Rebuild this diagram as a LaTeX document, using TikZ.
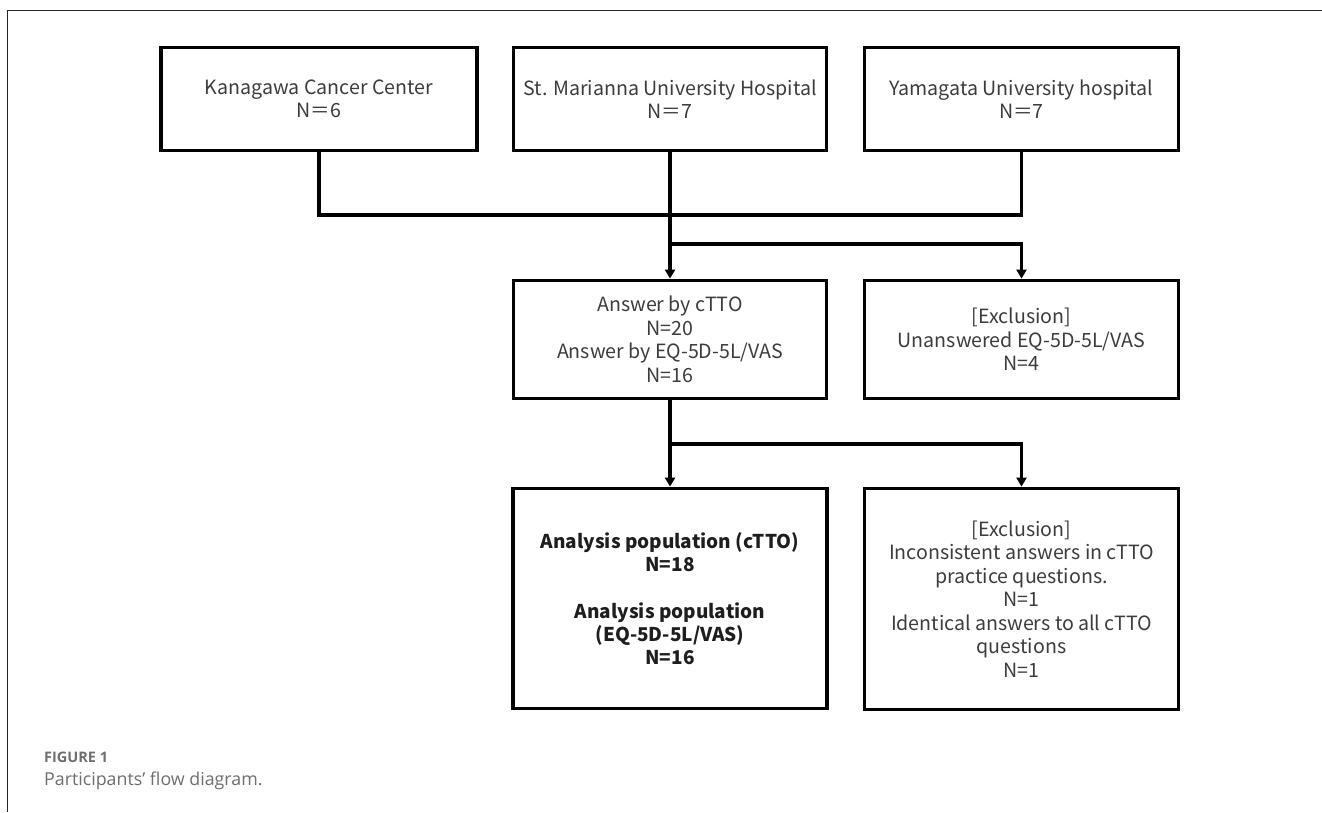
\documentclass[tikz,border=0pt]{standalone}
\usepackage{fontspec}
\setmainfont{Noto Sans CJK JP}
\newfontfamily\captionfont{Open Sans}
\usetikzlibrary{arrows.meta}

\definecolor{boxtext}{HTML}{3C3C3C}
\definecolor{boldtext}{HTML}{1E1E1E}
\definecolor{captiongray}{HTML}{6E6E6E}

\begin{document}
\begin{tikzpicture}[x=1pt, y=-1pt]
    % Define styles
    \tikzset{
        box/.style={
            draw,
            line width=3.8pt,
            minimum width=314pt,
            align=center,
            text=boxtext,
            font=\fontsize{19.6}{23.5}\selectfont
        },
        site/.style={
            box,
            minimum height=103pt
        },
        line/.style={
            draw,
            line width=3.2pt
        },
        arrow/.style={
            line,
            -{Triangle[width=10pt, length=9pt]}
        }
    }

    \useasboundingbox (0,0) rectangle (1322,812);

    % Frame of the figure
    \draw[line width=1.6pt, black!85] (7.5,812) |- (1322,10.5);

    % Participating sites
    \node[site, minimum width=316pt] (kanagawa) at (319,99) {Kanagawa Cancer Center\\N＝6};
    \node[site, minimum width=313pt] (marianna) at (670,99) {St. Marianna University Hospital\\N＝7};
    \node[site] (yamagata) at (1021.5,99) {Yamagata University hospital\\N＝7};

    % Answers and first exclusion
    \node[box, minimum width=313pt, minimum height=118pt] (answer) at (670,339.5) {Answer by cTTO\\N=20\\Answer by EQ-5D-5L/VAS\\N=16};
    \node[box, minimum height=118pt] (excl1) at (1021.5,339.5) {[Exclusion]\\Unanswered EQ-5D-5L/VAS\\N=4};

    % Analysis population and second exclusion
    \node[box, minimum height=220pt, text=boldtext, font=\fontsize{19}{23.3}\selectfont\bfseries] (analysis) at (670,598.5) {Analysis population (cTTO)\\N=18\\[23.3pt]Analysis population\\(EQ-5D-5L/VAS)\\N=16};
    \node[box, minimum height=221pt] (excl2) at (1021.5,599) {[Exclusion]\\Inconsistent answers in cTTO\\practice questions.\\N=1\\Identical answers to all cTTO\\questions\\N=1};

    % Junctions
    \coordinate (join1) at (670,215);
    \coordinate (split1) at (670,244);
    \coordinate (split2) at (670,444);

    % Connect sites
    \draw[line] (kanagawa.south) |- (join1) -| (yamagata.south);
    \draw[arrow] (marianna.south) -- (answer.north);
    \draw[arrow] (split1) -| (excl1.north);

    % Connect answers
    \draw[arrow] (answer.south) -- (analysis.north);
    \draw[arrow] (split2) -| (excl2.north);

    % Caption
    \node[anchor=base west, inner sep=0pt, text=captiongray, font=\captionfont\fontsize{14.5}{17}\selectfont\bfseries] (figlabel) at (44,762) {FIGURE 1};
    \node[anchor=base west, inner sep=0pt, text=captiongray, font=\captionfont\fontsize{17.8}{21}\selectfont] (figtitle) at (44,785) {Participants’ flow diagram.};

\end{tikzpicture}
\end{document}
